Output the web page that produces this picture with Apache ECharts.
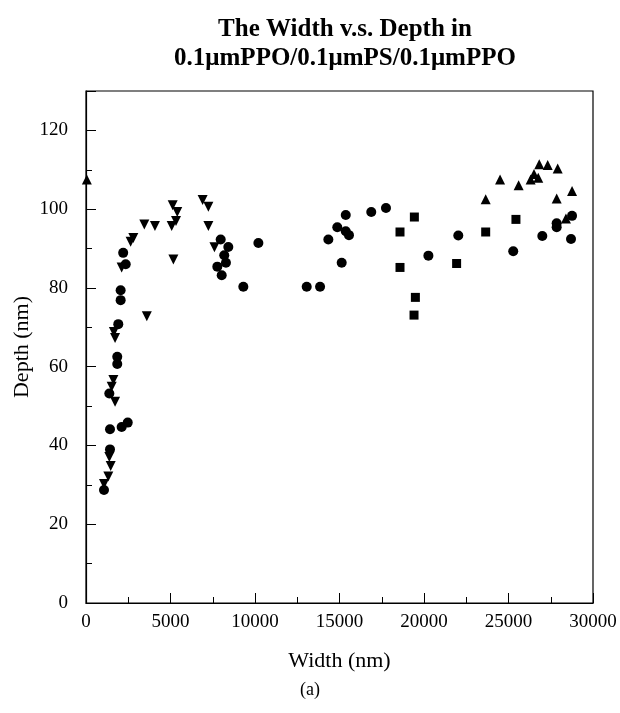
<!DOCTYPE html>
<html>
<head>
<meta charset="utf-8">
<script src="https://cdn.jsdelivr.net/npm/echarts@6/dist/echarts.min.js"></script>
<style>html,body{margin:0;padding:0;background:#fff}#c{width:620px;height:713px}</style>
</head>
<body>
<div id="c"></div>
<script>
// Data: [width (nm), depth (nm)]
var circles = [
  [1065,28.7],[1420,39.0],[1420,44.1],[2110,44.7],[2470,45.8],[1380,53.2],
  [1850,60.7],[1850,62.5],[1910,70.8],[2050,76.9],[2050,79.4],[2200,88.9],[2350,86.0],
  [7970,92.3],[8420,90.4],[8180,88.3],[8280,86.4],[7770,85.4],[8030,83.2],
  [9310,80.3],[10200,91.4],[13060,80.3],[13850,80.3],[14340,92.3],[14870,95.4],
  [15370,98.5],[15370,94.4],[15560,93.4],[15130,86.4],[16880,99.3],[17750,100.3],
  [20260,88.2],[22030,93.3],[25280,89.3],[27000,93.2],[27850,96.4],[27850,95.4],
  [28760,98.3],[28700,92.4]
];
var downTriangles = [
  [1065,30.2],[1320,32.1],[1460,34.8],[1380,37.1],[1720,51.1],[1520,54.9],[1620,56.6],
  [1650,68.8],[1720,67.3],[2110,85.2],[2640,91.7],[2800,92.7],[3450,96.1],[4080,95.7],
  [3600,72.8],[5130,101.0],[5400,99.3],[5325,97.0],[5070,95.7],[5170,87.2],
  [6900,102.3],[7240,100.6],[7240,95.7],[7600,90.3]
];
var squares = [
  [19430,98.0],[18580,94.2],[18580,85.2],[19490,77.6],[19410,73.1],
  [21930,86.2],[23650,94.2],[25440,97.4]
];
var upTriangles = [
  [50,107.5],[23650,102.5],[24500,107.5],[25600,106.1],[26310,107.5],[26510,108.9],
  [26760,108.0],[26820,111.4],[27320,111.2],[27910,110.3],[27850,102.7],
  [28760,104.6],[28400,97.6]
];
var titleText = 'The Width v.s. Depth in\n0.1\u03bcmPPO/0.1\u03bcmPS/0.1\u03bcmPPO';
var xName = 'Width (nm)';
var yName = 'Depth (nm)';
var caption = '(a)';

var FONT = '"Liberation Serif","Times New Roman",serif';
var chart = echarts.init(document.getElementById('c'), null, {renderer: 'canvas'});
var axisLineStyle = {color: '#000', width: 1.2};

function series(data, symbol, size, rotate) {
  return {
    type: 'scatter', data: data, symbol: symbol, symbolSize: size,
    symbolRotate: rotate || 0,
    itemStyle: {color: '#000', opacity: 1},
    xAxisIndex: 0, yAxisIndex: 0, silent: true
  };
}

chart.setOption({
  animation: false,
  backgroundColor: '#fff',
  title: {
    text: titleText, left: 340, textAlign: 'center', top: 10,
    textStyle: {fontFamily: FONT, fontWeight: 'bold', fontSize: 25, lineHeight: 29, color: '#000'}
  },
  grid: {left: 86, right: 27, top: 91, bottom: 110, show: true, borderColor: '#000', borderWidth: 1.2},
  graphic: [{
    type: 'text', left: 'center', top: 681,
    style: {text: caption, font: '18px ' + FONT, fill: '#000'}
  }],
  xAxis: [{
    type: 'value', min: 0, max: 30000, interval: 2500,
    name: xName, nameLocation: 'middle', nameGap: 47,
    nameTextStyle: {fontFamily: FONT, fontSize: 22, color: '#000'},
    axisLine: {show: true, lineStyle: axisLineStyle},
    axisTick: {show: true, inside: true, length: 6, lineStyle: {color: '#000'}},
    axisLabel: {fontFamily: FONT, fontSize: 19, color: '#000', margin: 10,
      formatter: function (v) { return v % 5000 === 0 ? String(v) : ''; }},
    splitLine: {show: false}
  }, {
    type: 'value', min: 0, max: 30000, interval: 5000, position: 'bottom',
    axisLine: {show: false},
    axisTick: {show: true, inside: true, length: 10, lineStyle: {color: '#000'}},
    axisLabel: {show: false}, splitLine: {show: false}
  }],
  yAxis: [{
    type: 'value', min: 0, max: 130, interval: 10,
    name: yName, nameLocation: 'middle', nameGap: 53, nameMoveOverlap: false,
    nameTextStyle: {fontFamily: FONT, fontSize: 22, color: '#000'},
    axisLine: {show: true, lineStyle: axisLineStyle},
    axisTick: {show: true, inside: true, length: 6, lineStyle: {color: '#000'}},
    axisLabel: {fontFamily: FONT, fontSize: 19, color: '#000', margin: 18,
      formatter: function (v) { return (v % 20 === 0 && v <= 120) ? String(v) : ''; }},
    splitLine: {show: false}
  }, {
    type: 'value', min: 0, max: 130, interval: 20, position: 'left',
    axisLine: {show: false},
    axisTick: {show: true, inside: true, length: 10, lineStyle: {color: '#000'}},
    axisLabel: {show: false}, splitLine: {show: false}
  }],
  series: [
    series(circles, 'circle', 10),
    series(downTriangles, 'triangle', 10, 180),
    series(squares, 'rect', 9),
    series(upTriangles, 'triangle', 10)
  ]
});
</script>
</body>
</html>
